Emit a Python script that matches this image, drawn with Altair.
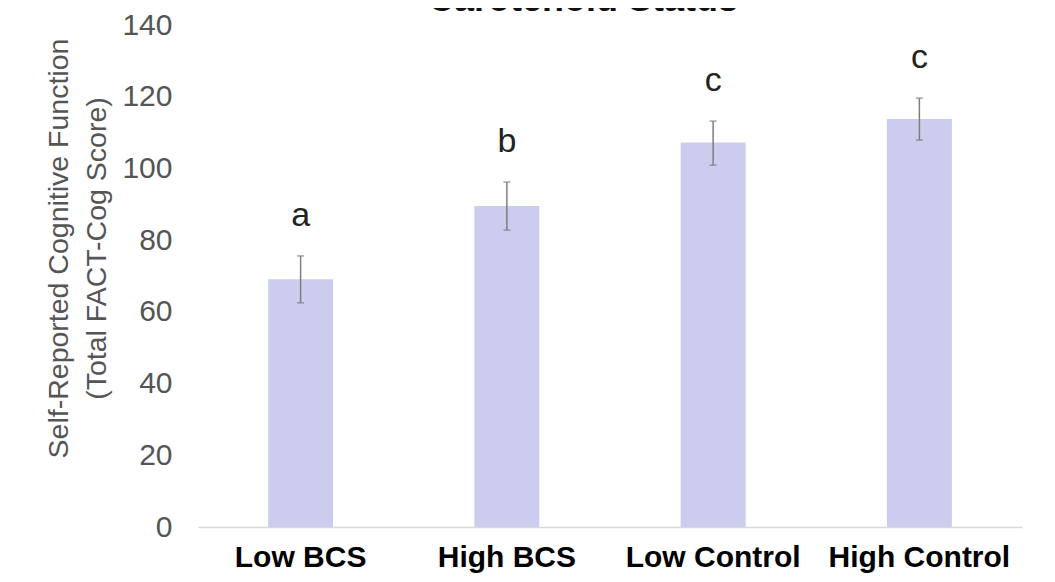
import altair as alt
import pandas as pd

groups = ["Low BCS", "High BCS", "Low Control", "High Control"]
means = [69.1, 89.5, 107.2, 113.8]
err_low = [62.5, 82.8, 100.9, 107.9]
err_high = [75.6, 96.2, 113.2, 119.6]
letters = ["a", "b", "c", "c"]
title_text = ["Carotenoid Status"]

df = pd.DataFrame({
    "group": groups,
    "mean": means,
    "lo": err_low,
    "hi": err_high,
    "letter": letters,
})
df_title = pd.DataFrame({"t": title_text})

FONT = "Liberation Sans"

x = alt.X("group:N", sort=groups, title=None,
          scale=alt.Scale(paddingInner=0.685, paddingOuter=0.34),
          axis=alt.Axis(labelAngle=0, labelFont=FONT, labelFontSize=30,
                        labelFontWeight="bold", labelColor="#000000",
                        labelPadding=15, labelLimit=0, ticks=False,
                        domainColor="#d9d9d9", domainWidth=1.5))

y_scale = alt.Scale(domain=[0, 140])

base = alt.Chart(df)

bars = base.mark_bar(color="#ccccee").encode(
    x=x,
    y=alt.Y("mean:Q", scale=y_scale,
            title=["Self-Reported Cognitive Function", "(Total FACT-Cog Score)"],
            axis=alt.Axis(values=[0, 20, 40, 60, 80, 100, 120, 140],
                          grid=False, domain=False, ticks=False,
                          labelFont=FONT, labelFontSize=30, labelColor="#555555",
                          labelPadding=26, titleFont=FONT, titleFontSize=28.5,
                          titleFontWeight="normal", titleColor="#555555",
                          titleLineHeight=38, titlePadding=10, titleY=223)),
)

rules = base.mark_rule(color="#7f7f7f", strokeWidth=1.5).encode(
    x=alt.X("group:N", sort=groups),
    y=alt.Y("lo:Q", scale=y_scale),
    y2="hi:Q",
)

caps_top = base.mark_tick(color="#7f7f7f", thickness=1.5, size=7).encode(
    x=alt.X("group:N", sort=groups),
    y=alt.Y("hi:Q", scale=y_scale),
)
caps_bot = base.mark_tick(color="#7f7f7f", thickness=1.5, size=7).encode(
    x=alt.X("group:N", sort=groups),
    y=alt.Y("lo:Q", scale=y_scale),
)

labels = base.mark_text(font=FONT, fontSize=34, color="#222222",
                        baseline="middle", dy=-40).encode(
    x=alt.X("group:N", sort=groups),
    y=alt.Y("hi:Q", scale=y_scale),
    text="letter:N",
)

title = alt.Chart(df_title).mark_text(
    font=FONT, fontSize=36, fontWeight="bold", color="#111111",
    align="center", baseline="alphabetic",
).encode(x=alt.value(385), y=alt.value(-14), text="t:N")

chart = alt.layer(bars, rules, caps_top, caps_bot, labels, title).properties(
    width=824,
    height=502,
    autosize=alt.AutoSizeParams(type="none"),
    padding={"left": 190, "top": 17, "right": 20, "bottom": 47},
).configure_view(stroke=None)

chart.save("out.html", embed_options={"renderer": "svg", "actions": False})
